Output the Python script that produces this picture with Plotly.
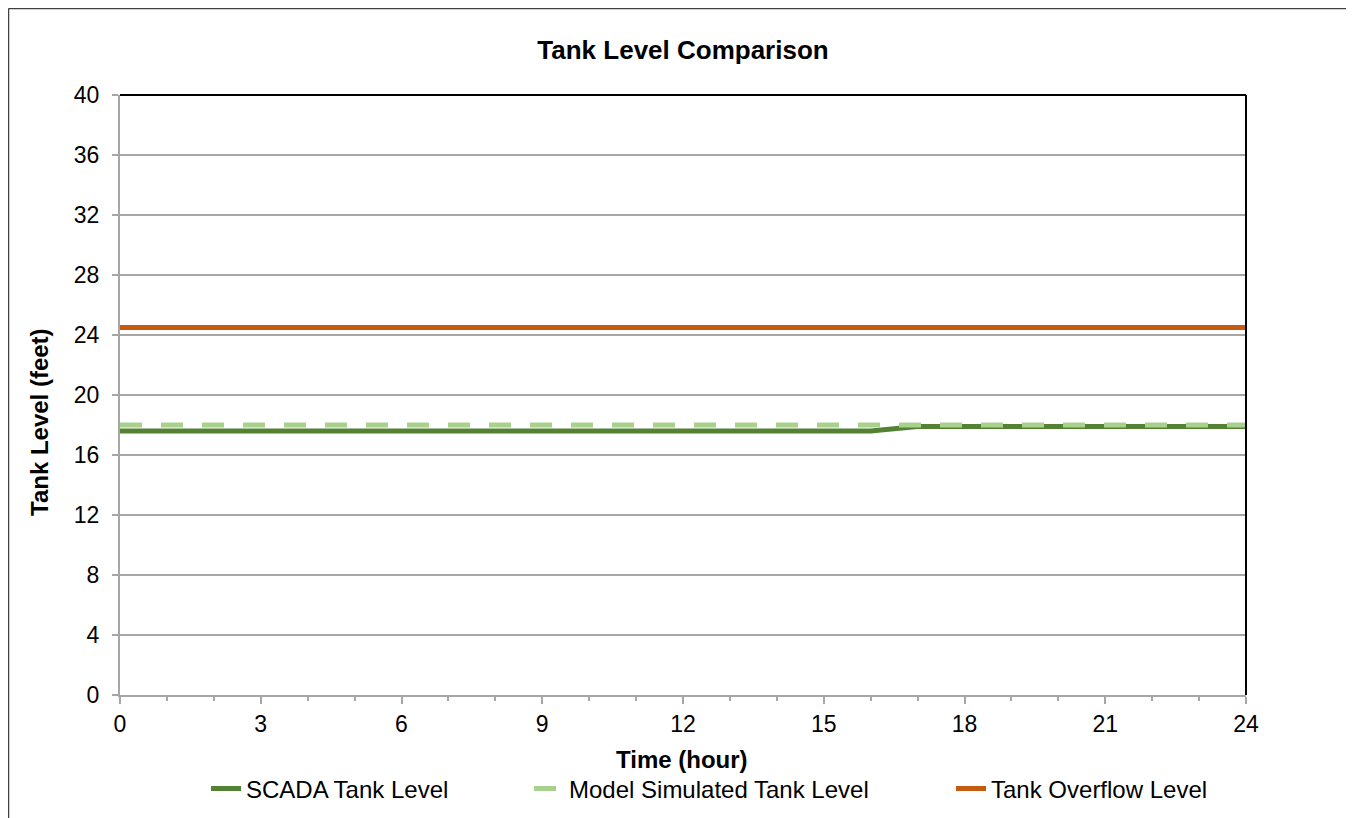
import plotly.graph_objects as go

hours = [0, 1, 2, 3, 4, 5, 6, 7, 8, 9, 10, 11, 12, 13, 14, 15, 16, 17, 18, 19, 20, 21, 22, 23, 24]
scada = [17.6, 17.6, 17.6, 17.6, 17.6, 17.6, 17.6, 17.6, 17.6, 17.6, 17.6, 17.6, 17.6,
         17.6, 17.6, 17.6, 17.6, 17.9, 17.9, 17.9, 17.9, 17.9, 17.9, 17.9, 17.9]
model = [18.0, 18.0, 18.0, 18.0, 18.0, 18.0, 18.0, 18.0, 18.0, 18.0, 18.0, 18.0, 18.0,
         18.0, 18.0, 18.0, 18.0, 18.0, 18.0, 18.0, 18.0, 18.0, 18.0, 18.0, 18.0]
overflow = [24.5, 24.5, 24.5, 24.5, 24.5, 24.5, 24.5, 24.5, 24.5, 24.5, 24.5, 24.5, 24.5,
            24.5, 24.5, 24.5, 24.5, 24.5, 24.5, 24.5, 24.5, 24.5, 24.5, 24.5, 24.5]

FONT = "Arial, Liberation Sans, sans-serif"
W, H = 1346, 811
OX, OY = 8, 7  # page offset of the figure (body margin)

def px_x(page_x):
    return (page_x - 120) / 1126

def px_y(page_y):
    return (694 - page_y) / 600

def cx(page_x):
    return (page_x - OX) / W

def cy(page_y):
    return 1 - (page_y - OY) / H

fig = go.Figure()
fig.add_trace(go.Scatter(x=hours, y=scada, mode="lines", name="SCADA Tank Level",
                         line=dict(color="#548235", width=5), legend="legend"))
fig.add_trace(go.Scatter(x=hours, y=model, mode="lines", name="Model Simulated Tank Level",
                         line=dict(color="#A9D18E", width=5, dash="22px,19px"), legend="legend2"))
fig.add_trace(go.Scatter(x=hours, y=overflow, mode="lines", name="Tank Overflow Level",
                         line=dict(color="#C55A11", width=5), legend="legend3"))

leg_common = dict(orientation="h", xanchor="left", yanchor="middle",
                  xref="container", yref="container", y=cy(788),
                  font=dict(size=24), bgcolor="rgba(0,0,0,0)")

fig.update_layout(
    width=W, height=H,
    margin=dict(l=112, r=108, t=87, b=124, autoexpand=False),
    paper_bgcolor="white", plot_bgcolor="white",
    font=dict(family=FONT, size=22, color="black"),
    title=dict(text="<b>Tank Level Comparison</b>", x=0.5, xref="paper",
               y=cy(49), yanchor="middle", font=dict(size=26)),
    showlegend=True,
    legend=dict(x=cx(247 - 41), **leg_common),
    legend2=dict(x=cx(570 - 41), **leg_common),
    legend3=dict(x=cx(992 - 41), **leg_common),
    xaxis=dict(range=[0, 24], dtick=3, tick0=0, showgrid=False, zeroline=False,
               showline=True, linecolor="#a6a6a6", linewidth=2,
               ticks="outside", ticklen=7, tickcolor="#a6a6a6", tickwidth=2,
               minor=dict(dtick=1, ticks="outside", ticklen=4, tickcolor="#a6a6a6", tickwidth=2),
               tickfont=dict(size=23)),
    yaxis=dict(range=[0, 40], dtick=4, tick0=0, showgrid=True, gridcolor="#a6a6a6", gridwidth=1.5,
               zeroline=False, showline=True, linecolor="#a6a6a6", linewidth=2,
               ticks="outside", ticklen=6, tickcolor="#a6a6a6", tickwidth=2,
               ticklabelstandoff=8, tickfont=dict(size=23)),
    annotations=[
        dict(text="<b>Time (hour)</b>", xref="paper", yref="paper", x=px_x(682),
             y=px_y(758), showarrow=False, xanchor="center", yanchor="middle",
             font=dict(size=24)),
        dict(text="<b>Tank Level (feet)</b>", xref="paper", yref="paper", x=px_x(40),
             y=px_y(421), showarrow=False, xanchor="center", yanchor="middle",
             textangle=-90, font=dict(size=24)),
    ],
)

# black top/right frame of plot area
fig.add_shape(type="line", xref="paper", yref="paper", x0=0, x1=1, y0=1, y1=1,
              line=dict(color="black", width=2))
fig.add_shape(type="line", xref="paper", yref="paper", x0=1, x1=1, y0=0, y1=1,
              line=dict(color="black", width=2))
# outer chart border (left/top darker, right lighter)
fig.add_shape(type="line", xref="paper", yref="paper",
              x0=px_x(8.5), x1=px_x(8.5), y0=px_y(840), y1=px_y(7.5),
              line=dict(color="#404040", width=1.5), layer="below")
fig.add_shape(type="line", xref="paper", yref="paper",
              x0=px_x(8.5), x1=px_x(1352), y0=px_y(7.5), y1=px_y(7.5),
              line=dict(color="#404040", width=1.5), layer="below")
fig.add_shape(type="line", xref="paper", yref="paper",
              x0=px_x(1351.5), x1=px_x(1351.5), y0=px_y(840), y1=px_y(7.5),
              line=dict(color="#c8c8c8", width=1.5), layer="below")

fig.write_html("out.html")
